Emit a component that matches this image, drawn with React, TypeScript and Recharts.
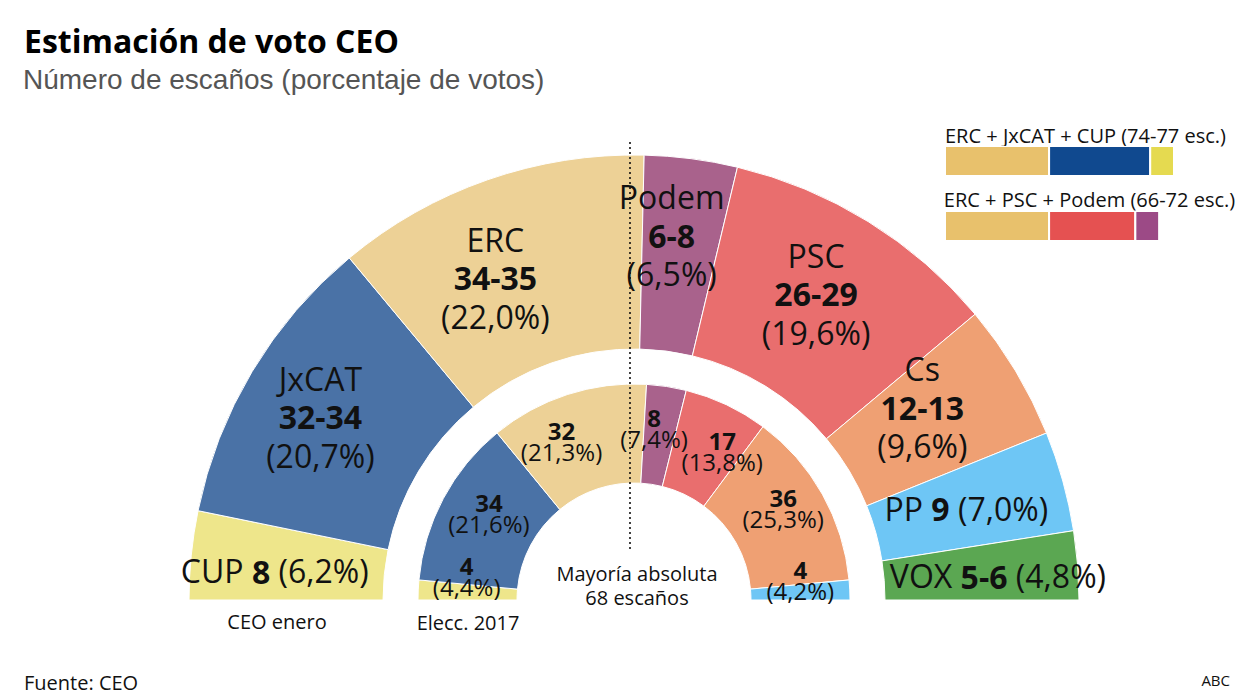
import React from 'react';
import { PieChart, Pie, Cell, BarChart, Bar, XAxis, YAxis } from 'recharts';

// ---------- Data ----------
const ceoParties = ['CUP', 'JxCAT', 'ERC', 'Podem', 'PSC', 'Cs', 'PP', 'VOX'];
const ceoSeats = ['8', '32-34', '34-35', '6-8', '26-29', '12-13', '9', '5-6'];
const ceoPct = [6.2, 20.7, 22.0, 6.5, 19.6, 9.6, 7.0, 4.8];

const e2017Parties = ['CUP', 'JxCAT', 'ERC', 'Podem', 'PSC', 'Cs', 'PP'];
const e2017Seats = [4, 34, 32, 8, 17, 36, 4];
const e2017Pct = [4.4, 21.6, 21.3, 7.4, 13.8, 25.3, 4.2];

const coalitionAParties = ['ERC', 'JxCAT', 'CUP'];
const coalitionASeatsMax = [35, 34, 8];
const coalitionALabel = 'ERC + JxCAT + CUP (74-77 esc.)';

const coalitionBParties = ['ERC', 'PSC', 'Podem'];
const coalitionBSeatsMax = [35, 29, 8];
const coalitionBLabel = 'ERC + PSC + Podem (66-72 esc.)';

const majorityLabel = 'Mayoría absoluta';
const majoritySeats = '68 escaños';

// ---------- Styles ----------
const partyColors: Record<string, string> = {
  CUP: '#EEE68B',
  JxCAT: '#4A72A6',
  ERC: '#EDD196',
  Podem: '#A9628C',
  PSC: '#E96E6E',
  Cs: '#EFA073',
  PP: '#6EC6F5',
  VOX: '#5BA752',
};
const legendColors: Record<string, string> = {
  ERC: '#E8C16C',
  JxCAT: '#10498F',
  CUP: '#E5DA50',
  PSC: '#E55151',
  Podem: '#9C4A86',
};
const SINGLE_LINE = new Set(['CUP', 'PP', 'VOX']);
const OUTER_NUDGE: number[][] = [
  [-13, 6], [-15, -5], [-24, 6], [-7, -20], [-1, -11], [-10, -14], [-3, 1], [17, 3],
];
const INNER_NUDGE: number[][] = [
  [-1, -27], [2, -20], [-21, -12], [-5, -18], [17, -10], [4, -21], [0, -23],
];

const FONT = '"Open Sans", sans-serif';
const RADIAN = Math.PI / 180;
const fmt = (v: number) => v.toFixed(1).replace('.', ',');

const W = 1248;
const H = 698;
const CX = 634;
const CY = 600;

const ceoData = ceoParties.map((p, i) => ({ name: p, value: ceoPct[i] }));
const e2017Data = e2017Parties.map((p, i) => ({ name: p, value: e2017Seats[i] }));

const rowA: Record<string, any> = { row: 'a' };
coalitionAParties.forEach((p, i) => (rowA[p] = coalitionASeatsMax[i]));
const rowB: Record<string, any> = { row: 'b' };
coalitionBParties.forEach((p, i) => (rowB[p] = coalitionBSeatsMax[i]));

function outerLabel(props: any) {
  const { cx, cy, midAngle, innerRadius, outerRadius, index } = props;
  const r = (innerRadius + outerRadius) / 2;
  const [ox, oy] = OUTER_NUDGE[index];
  const x = cx + r * Math.cos(-midAngle * RADIAN) + ox;
  const y = cy + r * Math.sin(-midAngle * RADIAN) + oy;
  const name = ceoParties[index];
  if (SINGLE_LINE.has(name)) {
    return (
      <text key={`ol-${index}`} x={x} y={y} textAnchor="middle" dominantBaseline="central" fontSize={32} fontFamily={FONT} fill="#111">
        {name}{' '}
        <tspan fontWeight={700}>{ceoSeats[index]}</tspan>
        {' '}({fmt(ceoPct[index])}%)
      </text>
    );
  }
  const gap = 38.5;
  return (
    <text key={`ol-${index}`} x={x} y={y} textAnchor="middle" dominantBaseline="central" fontSize={32} fontFamily={FONT} fill="#111">
      <tspan x={x} y={y - gap}>{name}</tspan>
      <tspan x={x} y={y} fontWeight={700}>{ceoSeats[index]}</tspan>
      <tspan x={x} y={y + gap}>({fmt(ceoPct[index])}%)</tspan>
    </text>
  );
}

function innerLabel(props: any) {
  const { cx, cy, midAngle, innerRadius, outerRadius, index } = props;
  const r = (innerRadius + outerRadius) / 2;
  const [ox, oy] = INNER_NUDGE[index];
  const x = cx + r * Math.cos(-midAngle * RADIAN) + ox;
  const y = cy + r * Math.sin(-midAngle * RADIAN) + oy;
  return (
    <text key={`il-${index}`} x={x} y={y} textAnchor="middle" dominantBaseline="central" fontSize={24} fontFamily={FONT} fill="#111">
      <tspan x={x} y={y} fontWeight={700}>{e2017Seats[index]}</tspan>
      <tspan x={x} y={y + 21}>({fmt(e2017Pct[index])}%)</tspan>
    </text>
  );
}

function CoalitionBar({ row, parties }: { row: any; parties: string[] }) {
  return (
    <BarChart
      width={229}
      height={30}
      data={[row]}
      layout="vertical"
      margin={{ top: 0, right: 0, bottom: 0, left: 0 }}
      barCategoryGap={0}
    >
      <XAxis type="number" domain={[0, 77]} hide />
      <YAxis type="category" dataKey="row" hide />
      {parties.map((p) => (
        <Bar key={p} dataKey={p} stackId="s" fill={legendColors[p]} stroke="#fff" strokeWidth={2} isAnimationActive={false} />
      ))}
    </BarChart>
  );
}

export default function App() {
  return (
    <div style={{ position: 'absolute', left: 0, top: 0, width: W, height: H, background: '#fff', overflow: 'hidden' }}>
      <PieChart width={W} height={H} margin={{ top: 0, right: 0, bottom: 0, left: 0 }}>
        <Pie
          data={ceoData}
          dataKey="value"
          nameKey="name"
          cx={CX}
          cy={CY}
          startAngle={180}
          endAngle={0}
          innerRadius={251}
          outerRadius={445}
          stroke="#fff"
          strokeWidth={1}
          label={outerLabel}
          labelLine={false}
          isAnimationActive={false}
        >
          {ceoData.map((d) => (
            <Cell key={d.name} fill={partyColors[d.name]} />
          ))}
        </Pie>
        <Pie
          data={e2017Data}
          dataKey="value"
          nameKey="name"
          cx={CX}
          cy={CY}
          startAngle={180}
          endAngle={0}
          innerRadius={117}
          outerRadius={216}
          stroke="#fff"
          strokeWidth={1}
          label={innerLabel}
          labelLine={false}
          isAnimationActive={false}
        >
          {e2017Data.map((d) => (
            <Cell key={d.name} fill={partyColors[d.name]} />
          ))}
        </Pie>
      </PieChart>

      <svg width={W} height={H} style={{ position: 'absolute', left: 0, top: 0, pointerEvents: 'none' }}>
        <text x={24} y={53} fontFamily={FONT} fontWeight={700} fontSize={32} fill="#000">Estimación de voto CEO</text>
        <text x={23} y={89} fontFamily='"Liberation Sans", Arial, sans-serif' fontSize={28} fill="#555">Número de escaños (porcentaje de votos)</text>
        <line x1={630} y1={142} x2={630} y2={550} stroke="#111" strokeWidth={1.6} strokeDasharray="2 3" />
        <text x={277} y={629} textAnchor="middle" fontFamily={FONT} fontSize={20} fill="#111">CEO enero</text>
        <text x={468} y={630} textAnchor="middle" fontFamily={FONT} fontSize={20} fill="#111">Elecc. 2017</text>
        <text x={637} y={581} textAnchor="middle" fontFamily={FONT} fontSize={20} fill="#111">{majorityLabel}</text>
        <text x={637} y={605} textAnchor="middle" fontFamily={FONT} fontSize={20} fill="#111">{majoritySeats}</text>
        <text x={1085.5} y={143} textAnchor="middle" fontFamily={FONT} fontSize={20} fill="#111">{coalitionALabel}</text>
        <text x={1089.5} y={207} textAnchor="middle" fontFamily={FONT} fontSize={20} fill="#111">{coalitionBLabel}</text>
        <text x={24} y={690} fontFamily={FONT} fontSize={20} fill="#111">Fuente: CEO</text>
        <text x={1230} y={686} textAnchor="end" fontFamily={FONT} fontSize={15} fill="#111">ABC</text>
      </svg>

      <div style={{ position: 'absolute', left: 945, top: 146 }}>
        <CoalitionBar row={rowA} parties={coalitionAParties} />
      </div>
      <div style={{ position: 'absolute', left: 945, top: 211 }}>
        <CoalitionBar row={rowB} parties={coalitionBParties} />
      </div>
    </div>
  );
}
